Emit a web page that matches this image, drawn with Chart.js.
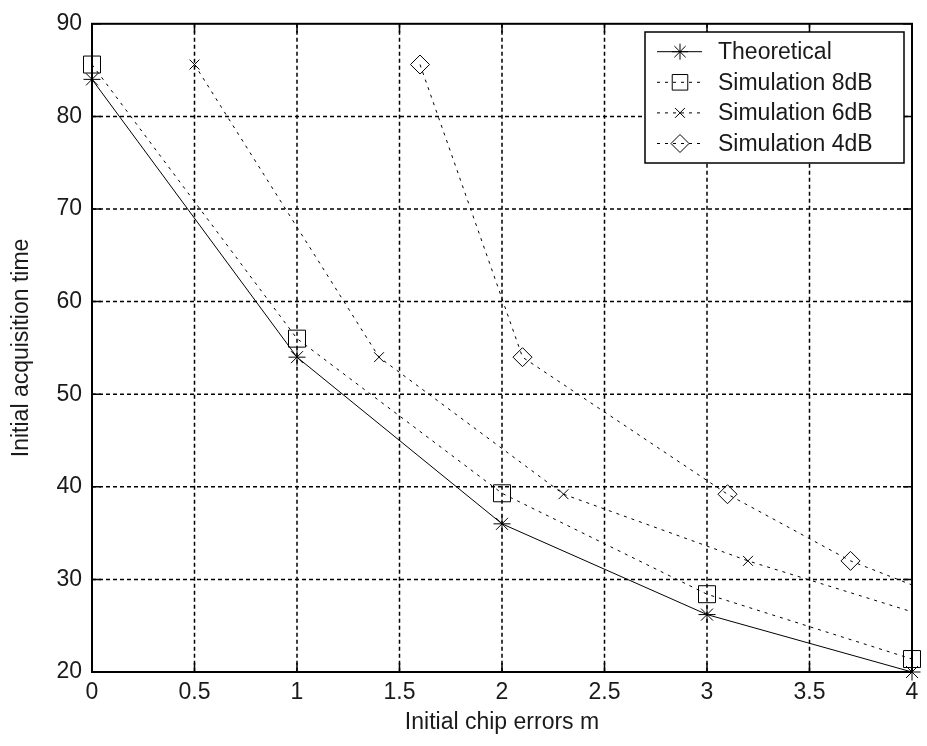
<!DOCTYPE html>
<html>
<head>
<meta charset="utf-8">
<title>Initial acquisition time</title>
<script src="https://cdn.jsdelivr.net/npm/chart.js@4.4.1/dist/chart.umd.min.js"></script>
<style>
    html, body { margin: 0; padding: 0; background: #fff; }
    canvas { display: block; }
</style>
</head>
<body>
<canvas id="acqChart" width="927" height="746"></canvas>
<script>
// Initial chip errors m (x) and initial acquisition time (y) per curve
const theoryX = [0, 1, 2, 3, 4];
const theoryY = [84, 54, 36, 26.2, 20];
const sim8X = [0, 1, 2, 3, 4];
const sim8Y = [85.6, 56, 39.3, 28.4, 21.4];
const sim6X = [0.5, 1.4, 2.3, 3.2, 4];
const sim6Y = [85.6, 54, 39.2, 32, 26.5];
const sim4X = [1.6, 2.1, 3.1, 3.7, 4];
const sim4Y = [85.6, 54, 39.2, 32, 29.4];
// the 6dB and 4dB curves run on to x = 4 without a marker there
const sim6Marked = [true, true, true, true, false];
const sim4Marked = [true, true, true, true, false];

const seriesNames = ['Theoretical', 'Simulation 8dB', 'Simulation 6dB', 'Simulation 4dB'];
const xTicks = [0, 0.5, 1, 1.5, 2, 2.5, 3, 3.5, 4];
const yTicks = [20, 30, 40, 50, 60, 70, 80, 90];

const FONT = '"Liberation Sans", Arial, sans-serif';
const TEXT_COLOR = '#1a1a1a';

class AcquisitionChart {
    constructor(canvasId) {
        this.canvas = document.getElementById(canvasId);
        this.chart = null;
    }

    toPoints(xs, ys) {
        return xs.map((x, i) => ({ x: x, y: ys[i] }));
    }

    buildDatasets() {
        const base = {
            borderColor: '#000',
            borderWidth: 1,
            pointBorderColor: '#000',
            pointBackgroundColor: 'rgba(0,0,0,0)',
            pointBorderWidth: 1,
            tension: 0,
            clip: false
        };
        return [
            Object.assign({}, base, {
                label: seriesNames[0],
                data: this.toPoints(theoryX, theoryY),
                borderDash: [],
                pointStyle: 'star',
                pointRadius: 8.5,
                markerSize: 8
            }),
            Object.assign({}, base, {
                label: seriesNames[1],
                data: this.toPoints(sim8X, sim8Y),
                borderDash: [3, 5],
                pointStyle: 'rect',
                pointRadius: 12,
                markerSize: 11
            }),
            Object.assign({}, base, {
                label: seriesNames[2],
                data: this.toPoints(sim6X, sim6Y),
                borderDash: [3, 5],
                pointStyle: 'crossRot',
                pointRadius: sim6Marked.map(m => m ? 7 : 0),
                markerSize: 7
            }),
            Object.assign({}, base, {
                label: seriesNames[3],
                data: this.toPoints(sim4X, sim4Y),
                borderDash: [3, 5],
                pointStyle: 'rectRot',
                pointRadius: sim4Marked.map(m => m ? 9.5 : 0),
                markerSize: 9
            })
        ];
    }

    // dashed grid, solid frame and inward ticks on all four sides
    axesPlugin() {
        return {
            id: 'matlabAxes',
            beforeDatasetsDraw(chart) {
                const { ctx, chartArea: a, scales: { x, y } } = chart;
                ctx.save();
                ctx.strokeStyle = '#000';
                ctx.lineWidth = 1.5;
                ctx.setLineDash([4, 3]);
                ctx.beginPath();
                xTicks.slice(1, -1).forEach(v => {
                    const px = x.getPixelForValue(v);
                    ctx.moveTo(px, a.top);
                    ctx.lineTo(px, a.bottom);
                });
                yTicks.slice(1, -1).forEach(v => {
                    const py = y.getPixelForValue(v);
                    ctx.moveTo(a.left, py);
                    ctx.lineTo(a.right, py);
                });
                ctx.stroke();
                ctx.restore();
            },
            afterDatasetsDraw(chart) {
                const { ctx, chartArea: a, scales: { x, y } } = chart;
                const len = 9;
                ctx.save();
                ctx.strokeStyle = '#000';
                ctx.setLineDash([]);
                ctx.lineWidth = 1.5;
                ctx.beginPath();
                xTicks.forEach(v => {
                    const px = x.getPixelForValue(v);
                    ctx.moveTo(px, a.bottom);
                    ctx.lineTo(px, a.bottom - len);
                    ctx.moveTo(px, a.top);
                    ctx.lineTo(px, a.top + len);
                });
                yTicks.forEach(v => {
                    const py = y.getPixelForValue(v);
                    ctx.moveTo(a.left, py);
                    ctx.lineTo(a.left + len, py);
                    ctx.moveTo(a.right, py);
                    ctx.lineTo(a.right - len, py);
                });
                ctx.stroke();
                ctx.lineWidth = 2;
                ctx.strokeRect(a.left, a.top, a.right - a.left, a.bottom - a.top);
                ctx.restore();
            }
        };
    }

    legendPlugin() {
        return {
            id: 'boxLegend',
            afterDraw(chart) {
                const ctx = chart.ctx;
                const box = { left: 645, top: 32, width: 259, height: 131 };
                ctx.save();
                ctx.fillStyle = '#fff';
                ctx.fillRect(box.left, box.top, box.width, box.height);
                ctx.strokeStyle = '#000';
                ctx.lineWidth = 1.5;
                ctx.strokeRect(box.left, box.top, box.width, box.height);

                chart.data.datasets.forEach((ds, i) => {
                    const rowY = box.top + 19.7 + i * 30.6;
                    ctx.strokeStyle = '#000';
                    ctx.lineWidth = ds.borderWidth;
                    ctx.setLineDash(ds.borderDash);
                    ctx.beginPath();
                    ctx.moveTo(657, rowY);
                    ctx.lineTo(702, rowY);
                    ctx.stroke();

                    ctx.setLineDash([]);
                    ctx.lineWidth = 1;
                    ctx.fillStyle = 'rgba(0,0,0,0)';
                    Chart.helpers.drawPoint(ctx, {
                        pointStyle: ds.pointStyle,
                        radius: ds.markerSize,
                        rotation: 0,
                        borderWidth: 1
                    }, 680, rowY);

                    ctx.fillStyle = TEXT_COLOR;
                    ctx.font = '23px ' + FONT;
                    ctx.textBaseline = 'middle';
                    ctx.textAlign = 'left';
                    ctx.fillText(ds.label, 718, rowY + 1);
                });
                ctx.restore();
            }
        };
    }

    initialize() {
        Chart.defaults.font.family = FONT;
        Chart.defaults.color = TEXT_COLOR;

        this.chart = new Chart(this.canvas, {
            type: 'line',
            data: { datasets: this.buildDatasets() },
            options: {
                responsive: false,
                animation: false,
                layout: { padding: { left: 0, top: 21, right: 15, bottom: 0 } },
                plugins: {
                    legend: { display: false },
                    tooltip: { enabled: false }
                },
                scales: {
                    x: {
                        type: 'linear',
                        min: 0,
                        max: 4,
                        afterBuildTicks: s => { s.ticks = xTicks.map(v => ({ value: v })); },
                        afterFit: s => { s.height = 74; },
                        grid: { display: false, drawTicks: false },
                        border: { display: false },
                        ticks: {
                            padding: 7,
                            autoSkip: false,
                            maxRotation: 0,
                            font: { size: 23 },
                            callback: v => String(v)
                        },
                        title: {
                            display: true,
                            text: 'Initial chip errors m',
                            font: { size: 23 },
                            padding: { top: 0, bottom: 10 }
                        }
                    },
                    y: {
                        type: 'linear',
                        min: 20,
                        max: 90,
                        afterBuildTicks: s => { s.ticks = yTicks.map(v => ({ value: v })); },
                        afterFit: s => { s.width = 92; },
                        grid: { display: false, drawTicks: false },
                        border: { display: false },
                        ticks: {
                            padding: 10,
                            autoSkip: false,
                            font: { size: 23 },
                            callback: v => String(v)
                        },
                        title: {
                            display: true,
                            text: 'Initial acquisition time',
                            font: { size: 23 },
                            padding: { top: 8, bottom: 0 }
                        }
                    }
                }
            },
            plugins: [this.axesPlugin(), this.legendPlugin()]
        });
    }
}

new AcquisitionChart('acqChart').initialize();
</script>
</body>
</html>
